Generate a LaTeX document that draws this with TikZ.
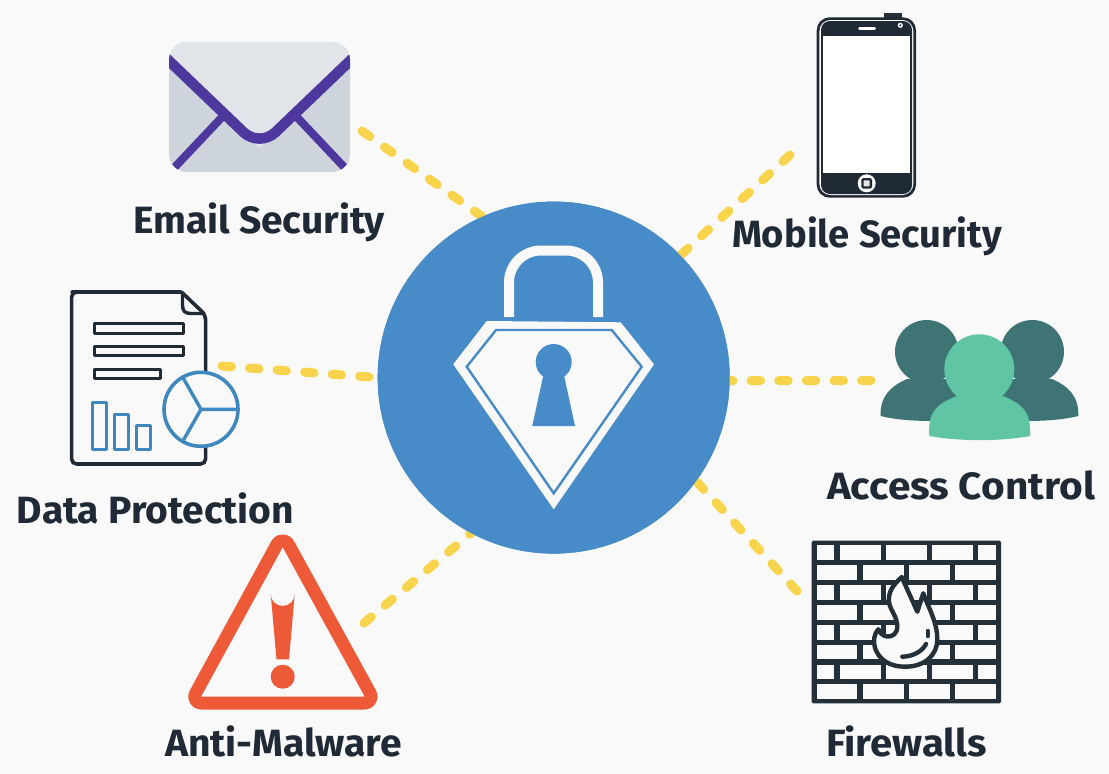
\documentclass[tikz,border=0pt]{standalone}
\usepackage{fontspec}
\usepackage{graphicx}
\setmainfont{Fira Sans}
\usetikzlibrary{calc}
\definecolor{bgc}{HTML}{F9F9FA}
\definecolor{ink}{HTML}{1F2A36}
\definecolor{inkb}{HTML}{243039}
\definecolor{hubc}{HTML}{478CC8}
\definecolor{goldc}{HTML}{F7D44C}
\definecolor{purp}{HTML}{4E389E}
\definecolor{envA}{HTML}{E1E5EA}
\definecolor{envB}{HTML}{CDD4DB}
\definecolor{blueb}{HTML}{3F88BF}
\definecolor{tealb}{HTML}{3F7475}
\definecolor{tealf}{HTML}{60C5A5}
\definecolor{redc}{HTML}{EE5A38}
\newsavebox{\lblbox}
\newcommand{\lbl}[2]{\sbox{\lblbox}{\fontsize{38pt}{40pt}\selectfont\bfseries #2}\pgfmathsetmacro{\lblf}{#1/(\wd\lblbox/1pt)}\scalebox{\lblf}[1]{\usebox{\lblbox}}}
\tikzset{
  x=1pt,y=-1pt,
  conn/.style={draw=goldc,line width=9pt,line cap=round,dash pattern=on 9.5pt off 18.1pt},
  lab/.style={text=ink,inner sep=0pt,anchor=center},
  docline/.style={draw=ink,line width=3pt,fill=bgc},
  barb/.style={draw=blueb,line width=3pt,fill=bgc},
  hubnode/.style={circle,fill=hubc,minimum size=352pt,inner sep=0pt},
  endpt/.style={inner sep=0pt,minimum size=0pt}
}
\begin{document}
\begin{tikzpicture}[line join=round]
\useasboundingbox (0,0) rectangle (1109,774);
\fill[bgc] (0,0) rectangle (1109,774);
% hub and connectors
\coordinate (hubc) at (553.7,377.6);
\node[hubnode] (hub) at (hubc) {};
\coordinate (emailEnd) at (362,131);
\coordinate (mobileEnd) at (790,155);
\coordinate (dataEnd) at (222,366);
\coordinate (accessEnd) at (871,380.5);
\coordinate (malwareEnd) at (364,623);
\coordinate (fireEnd) at (797,591);
\begin{scope}[on background layer/.try]
\end{scope}
\draw[conn] (emailEnd) -- (hub.114.5);
\draw[conn] (mobileEnd) -- (hub.44);
\draw[conn] (dataEnd) -- (hub.180);
\draw[conn] (accessEnd) -- (hub.-1);
\draw[conn] (malwareEnd) -- (hub.-118);
\draw[conn] (fireEnd) -- (hub.-36);
\fill[hubc] (hubc) circle[radius=176];
% lock
\draw[bgc,line width=10pt,rounded corners=32pt] (509,317) -- (509,250.5) -- (598,250.5) -- (598,317);
\fill[bgc] (486.7,321) -- (620.7,322.3) -- (654,364.3) -- (553.7,509.3) -- (453.3,364.3) -- cycle;
\draw[hubc,line width=2.4pt,line join=miter] (496,330) -- (611.7,330) -- (641.7,366.7) -- (553.7,493.3) -- (466.7,366.7) -- cycle;
\fill[hubc] (553.7,362) circle[radius=18];
\fill[hubc] (544,372) -- (563.3,372) -- (575,426) -- (532.3,426) -- cycle;
% email
\fill[envB,rounded corners=18pt] (169,42) rectangle (350,172);
\begin{scope}
\clip[rounded corners=18pt] (169,42) rectangle (350,172);
\fill[envA] (169,42) -- (350,42) -- (350,61) -- (259.5,147.5) -- (169,61) -- cycle;
\draw[purp,line width=8pt] (174,168) -- (225,114);
\draw[purp,line width=8pt] (345,168) -- (294,114);
\draw[purp,line width=10.5pt,rounded corners=22pt,line join=miter] (165,57) -- (259.5,147.5) -- (354,57);
\end{scope}
% mobile
\fill[inkb] (884,13.3) rectangle (902,20);
\fill[ink,rounded corners=13pt] (816.7,17.3) rectangle (916,197.7);
\fill[white,rounded corners=11pt] (819.4,20) rectangle (913.3,195);
\fill[ink,rounded corners=9pt] (821,21) rectangle (912,194);
\fill[white] (823.3,35.7) rectangle (910,173);
\draw[white,line width=3pt,line cap=round] (859.5,28) -- (874.5,28);
\fill[white] (900.3,25.3) circle[radius=2.6];
\fill[ink] (900.3,25.3) circle[radius=1.1];
\fill[white] (866.7,183.3) circle[radius=9];
\draw[ink,line width=2.4pt,fill=envA,rounded corners=1pt] (862.5,179.2) rectangle (870.8,187.5);
% people
\fill[tealb] (926.7,351.7) circle[radius=31.7];
\fill[tealb] (1032.3,351.7) circle[radius=31.7];
\fill[tealb] (880.5,416) .. controls (880,396) and (891,386) .. (907,379) -- (946,379) -- (975,420) -- (935,421) .. controls (915,421) and (897,420) .. cycle;
\fill[tealb] (1078.3,416) .. controls (1079,396) and (1068,386) .. (1052,379) -- (1013,379) -- (984,420) -- (1024,421) .. controls (1044,421) and (1062,420) .. cycle;
\fill[tealf] (979.3,369.3) circle[radius=35];
\fill[tealf] (929.3,436) .. controls (928,412) and (935,405) .. (956.7,396) -- (1003,396) .. controls (1024,405) and (1031,412) .. (1030,436) .. controls (1000,441.5) and (960,441.5) .. cycle;
% doc
\draw[ink,line width=3.6pt,fill=bgc,rounded corners=5pt] (181.5,292) -- (77,292) -- (71.6,292) -- (71.6,464) -- (205.6,464) -- (205.6,315) -- (181.5,292);
\draw[ink,line width=3.4pt,line join=round] (182.5,293) -- (182.5,305) .. controls (182.5,311) and (185,313.5) .. (191,313.5) -- (205,313.5);
\draw[docline] (94.6,323.6) rectangle (183,333);
\draw[docline] (94.6,346.4) rectangle (183,355.8);
\draw[docline] (94.6,369.4) rectangle (160.6,378.8);
\draw[barb] (92,402) rectangle (106,449);
\draw[barb] (114,414.6) rectangle (128,449);
\draw[barb] (136.2,425.6) rectangle (150,449);
\draw[blueb,line width=3.6pt,fill=bgc] (201,409.3) circle[radius=37];
\draw[blueb,line width=3.4pt] (238,409.3) -- (201,409.3) -- (183.5,378.5);
\draw[blueb,line width=3.4pt] (201,409.3) -- (183.5,440);
% warning
\draw[redc,line width=26pt,line join=round,fill=redc] (282.7,547.5) -- (364.5,696.5) -- (201.3,696.5) -- cycle;
\fill[bgc] (282.7,547.5) -- (364.5,696.5) -- (201.3,696.5) -- cycle;
\fill[redc] (270.7,594) arc[start angle=180,end angle=0,radius=12] -- (289,659.3) -- (276.5,659.3) -- cycle;
\fill[redc] (282.7,676.7) circle[radius=12];
% firewall
\fill[inkb,rounded corners=1.5pt] (811.7,540.7) rectangle (1001,703.3);
\foreach \ya in {545.3,585.1,624.9,664.6}{
  \foreach \xa/\xb in {816.7/834.3,839.7/880.7,885.7/926.7,931.7/973,978/996}{
    \fill[bgc] (\xa,\ya) rectangle (\xb,\ya+14.7);
  }
}
\foreach \ya in {565,604.8,644.6,684.2}{
  \foreach \xa/\xb in {816.7/857.3,862.7/903.7,908.7/949.7,955/996}{
    \fill[bgc] (\xa,\ya) rectangle (\xb,\ya+14.7);
  }
}
\draw[inkb,line width=4.4pt,fill=bgc,line join=round] (901.7,577) .. controls (893,585) and (888,592) .. (889,602) .. controls (890,610) and (897,616) .. (897.3,626) .. controls (897.5,634) and (892,637) .. (887,636.5) .. controls (883,636) and (880,633) .. (878.3,629.3) .. controls (874,634) and (873,641) .. (875,648) .. controls (879,660) and (890,666.7) .. (905,666.7) .. controls (925,666.7) and (937,655) .. (937.3,640) .. controls (937.5,622) and (928,607) .. (923.3,593.3) -- (917.3,611.7) -- cycle;
\draw[inkb,line width=4.4pt,line cap=round] (927.7,631) -- (927.7,636);
\draw[inkb,line width=4.4pt,line cap=round] (902.3,656.7) .. controls (912,656.5) and (922,652) .. (926,644);
% labels
\node[lab] (lemail) at (259,222) {\lbl{252}{Email Security}};
\node[lab] (lmobile) at (867,236) {\lbl{270}{Mobile Security}};
\node[lab] (laccess) at (961,485) {\lbl{268}{Access Control}};
\node[lab] (ldata) at (155.5,508) {\lbl{277}{Data Protection}};
\node[lab] (lmal) at (283.5,741) {\lbl{237}{Anti-Malware}};
\node[lab] (lfire) at (906.5,741) {\lbl{161}{Firewalls}};
\end{tikzpicture}
\end{document}
